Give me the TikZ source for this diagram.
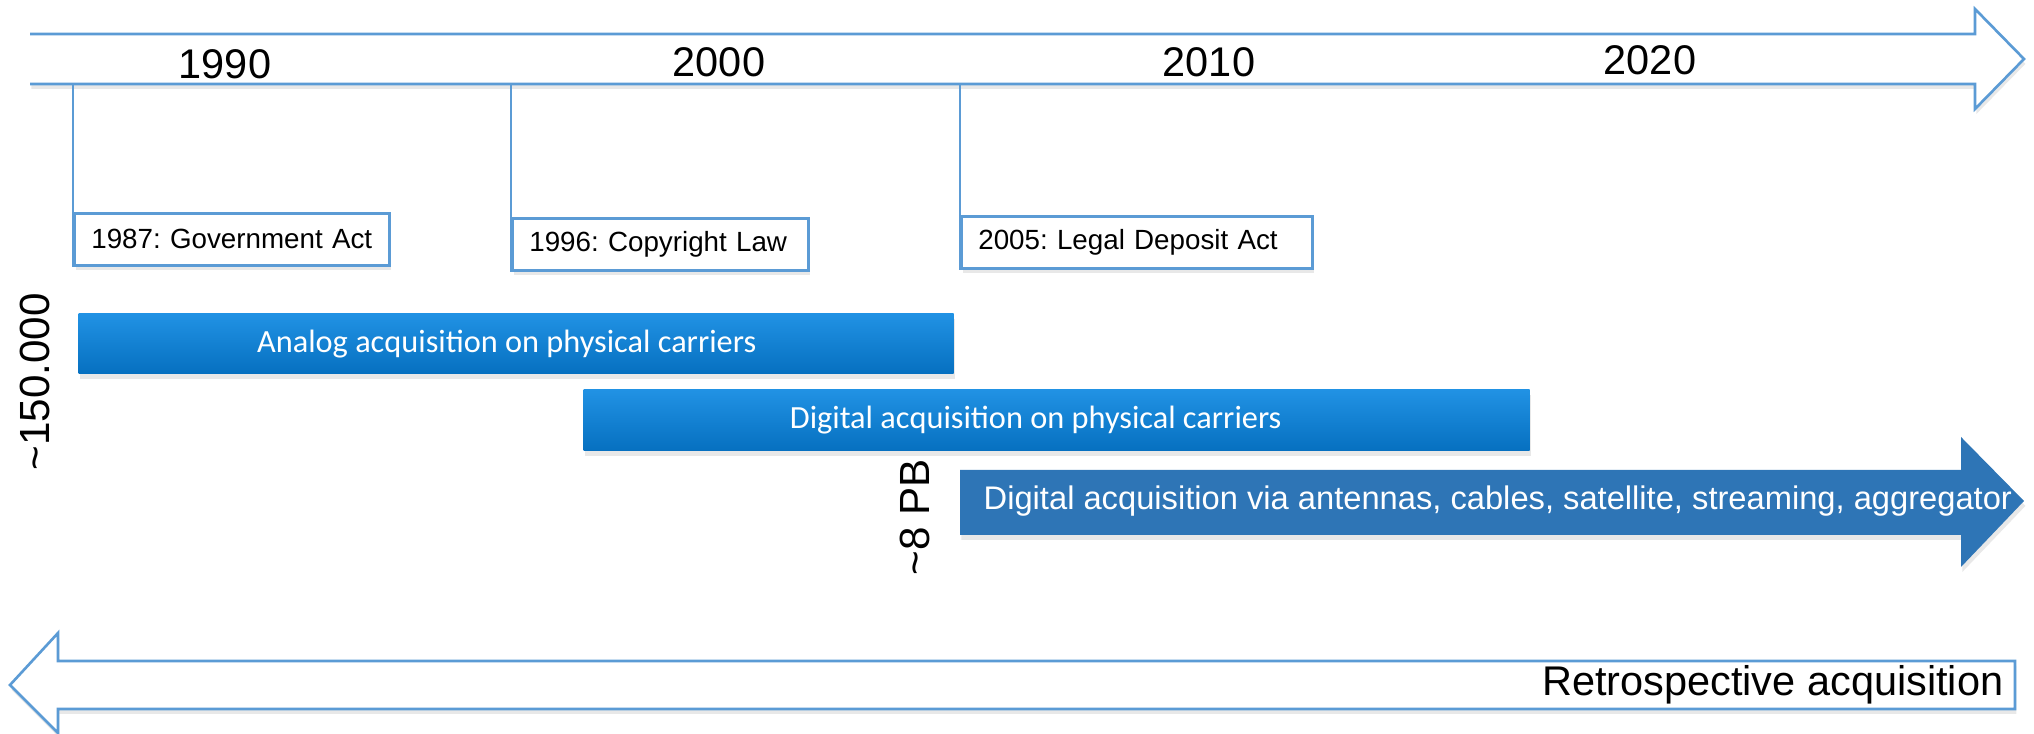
\documentclass[tikz,border=0pt]{standalone}
\usepackage{fontspec}
\setmainfont{Liberation Sans}
\newfontfamily\calibri{Carlito}
\usetikzlibrary{shadows}
\definecolor{lineblue}{HTML}{5B9BD5}
\definecolor{arrowblue}{HTML}{2E75B6}
\definecolor{bartop}{HTML}{2192E4}
\definecolor{barbot}{HTML}{0670C0}

\begin{document}
\begin{tikzpicture}[
    outl/.style={draw=lineblue, line width=0.75pt},
    shad/.style={drop shadow={opacity=0.18, shadow xshift=0.4pt, shadow yshift=-1.4pt}},
    year/.style={inner sep=0pt, font=\fontsize{11.8}{13}\selectfont},
    act/.style={outl, shad, fill=white, anchor=north west, inner xsep=1.7mm, inner ysep=0pt, minimum height=5.2mm, align=left, font=\fontsize{7.9}{9}\selectfont\frenchspacing},
    bar/.style={anchor=north west, inner sep=0pt, top color=bartop, bottom color=barbot, shad},
    bartext/.style={inner sep=0pt, text=white, font=\calibri\fontsize{9.2}{11}\selectfont},
    amount/.style={rotate=90, inner sep=0pt, font=\fontsize{12}{14}\selectfont}
]
\useasboundingbox (0,0) rectangle (20.34,7.34);

% time line
\draw[outl, fill=white, shad] (0.3,7.0)--(19.75,7.0)--(19.75,7.25)--(20.24,6.75)--(19.75,6.25)--(19.75,6.5)--(0.3,6.5);
\coordinate (tl) at (0.3,6.5);
\node[year] (y1990) at (2.25,6.70) {1990};
\node[year] (y2000) at (7.19,6.72) {2000};
\node[year] (y2010) at (12.09,6.72) {2010};
\node[year] (y2020) at (16.50,6.74) {2020};

% laws
\node[act, text width=2.81cm] (gov) at (0.73,5.22) {1987: Government Act};
\node[act, text width=2.62cm] (copy) at (5.11,5.17) {1996: Copyright Law};
\node[act, text width=3.17cm] (dep) at (9.60,5.19) {2005: Legal Deposit Act};
\foreach \n in {gov,copy,dep}
    \draw[outl] (\n.south west) -- (\n.north west |- tl);

% carriers
\node[bar, minimum width=8.75cm, minimum height=6.0mm] (analog) at (0.78,4.21) {};
\node[bartext] (analogtxt) at ([xshift=-0.95mm]analog.center) {Analog acquisition on physical carriers};
\node[bar, minimum width=9.46cm, minimum height=6.1mm] (digphys) at (5.83,3.45) {};
\node[bartext] (digphystxt) at ([xshift=-2.1mm]digphys.center) {Digital acquisition on physical carriers};

% online
\fill[arrowblue, shad] (9.60,2.64)--(19.61,2.64)--(19.61,2.97)--(20.24,2.33)--(19.61,1.67)--(19.61,1.99)--(9.60,1.99)--cycle;
\node[anchor=west, inner sep=0pt, text=white, font=\fontsize{9.3}{11}\selectfont] (stream) at (9.83,2.33) {Digital acquisition via antennas, cables, satellite, streaming, aggregator};

\node[amount] (analogvol) at (0.35,3.52) {\textasciitilde150.000};
\node[amount] (digvol) at (9.15,2.17) {\textasciitilde8 PB};

% back catalogue
\draw[outl, fill=white, shad] (20.15,0.73)--(0.58,0.73)--(0.58,1.01)--(0.10,0.49)--(0.58,0.01)--(0.58,0.25)--(20.15,0.25)--cycle;
\node[year, anchor=east] (retro) at (20.04,0.49) {Retrospective acquisition};
\end{tikzpicture}
\end{document}
